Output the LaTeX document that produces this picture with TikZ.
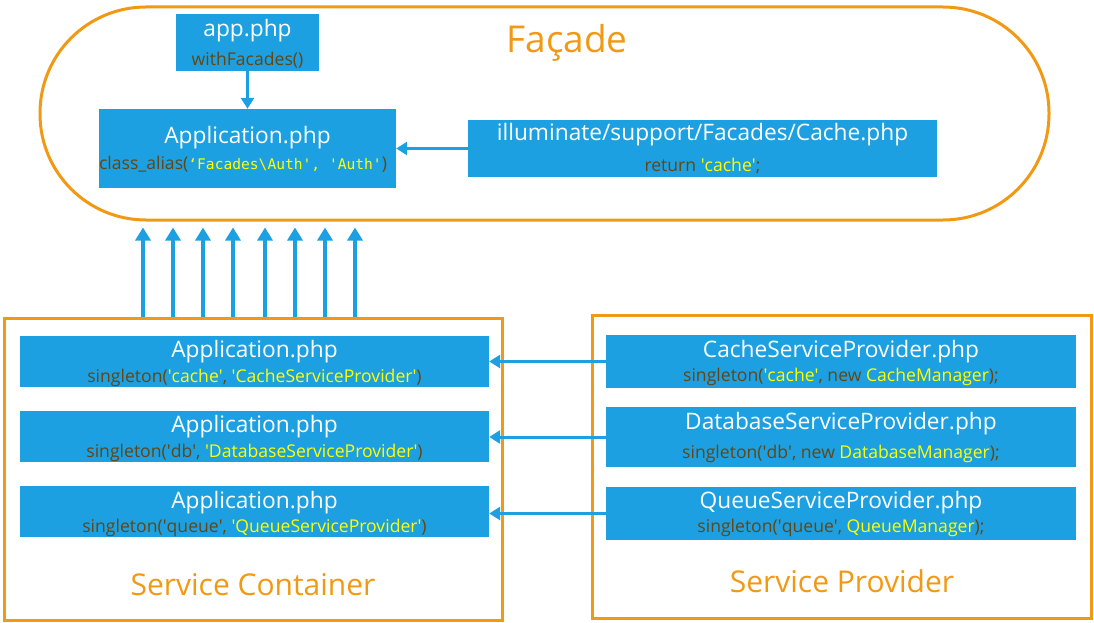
\documentclass[tikz,border=0pt]{standalone}
\usepackage{fontspec}
\setmainfont{Open Sans}
\setmonofont{DejaVu Sans Mono}
\usetikzlibrary{arrows.meta}
\definecolor{bl}{RGB}{29,160,225}
\definecolor{og}{RGB}{242,153,19}
\definecolor{br}{RGB}{100,70,20}
\definecolor{yl}{RGB}{255,255,0}
\newcommand\qq{\textquotesingle}
\newcommand\yy[1]{\textcolor{yl}{#1}}
\begin{document}
\begin{tikzpicture}[x=1pt,y=-1pt,
 box/.style={fill=bl,draw=none,inner sep=0},
 ttl/.style={text=white,font=\fontsize{22.7}{25}\selectfont,inner sep=0,yshift=-2pt},
 sub/.style={text=br,font=\fontsize{17.6}{20}\selectfont,inner sep=0,yshift=-2pt},
 upar/.style={draw=bl,line width=4pt,-{Triangle[width=15pt,length=13pt]}},
 lar/.style={draw=bl,line width=3pt,-{Triangle[width=13pt,length=11pt]}},
 frame/.style={draw=og,line width=3pt,inner sep=0},
 big/.style={text=og,inner sep=0}]
\useasboundingbox (0,0) rectangle (1094,623);
% frames
\node[frame,rounded corners=106pt,minimum width=1009pt,minimum height=213pt] (facade) at (544.5,113.5) {};
\node[frame,minimum width=498pt,minimum height=302pt] (sc) at (253,469) {};
\node[frame,minimum width=499pt,minimum height=303pt] (sp) at (841.5,466.5) {};
\node[big,font=\fontsize{37}{40}\selectfont] (tfac) at (567,43) {Façade};
\node[big,font=\fontsize{30}{33}\selectfont] (tsc) at (253,585) {Service Container};
\node[big,font=\fontsize{30}{33}\selectfont] (tsp) at (842,581) {Service Provider};
% facade boxes
\node[box,minimum width=143pt,minimum height=57pt] (app) at (247.5,42.5) {};
\node[ttl] (appt) at (247.5,29) {app.php};
\node[sub] (apps) at (247.5,58) {withFacades()};
\node[box,minimum width=297pt,minimum height=79pt] (appl) at (247.5,148.5) {};
\node[ttl] (applt) at (247.5,136) {Application.php};
\node[sub] (appls) at (243,162) {class\_alias(\yy{\ttfamily\fontsize{14.6}{16}\selectfont ‘Facades\textbackslash Auth', 'Auth'})};
\node[box,minimum width=469pt,minimum height=57pt] (cache) at (702.5,148.5) {};
\node[ttl] (cachet) at (702.5,133) {illuminate/support/Facades/Cache.php};
\node[sub] (caches) at (702.5,164) {return \yy{\qq cache\qq};};
% service container boxes
\node[box,minimum width=469pt,minimum height=51pt] (l1) at (254.5,361.5) {};
\node[ttl] (l1t) at (254.5,350) {Application.php};
\node[sub] (l1s) at (254.5,376) {singleton(\yy{\qq cache\qq}, \yy{\qq CacheServiceProvider\qq})};
\node[box,minimum width=469pt,minimum height=51pt] (l2) at (254.5,436.5) {};
\node[ttl] (l2t) at (254.5,425) {Application.php};
\node[sub] (l2s) at (254.5,451) {singleton(\qq db\qq, \yy{\qq DatabaseServiceProvider\qq})};
\node[box,minimum width=469pt,minimum height=51pt] (l3) at (254.5,511.5) {};
\node[ttl] (l3t) at (254.5,501) {Application.php};
\node[sub] (l3s) at (254.5,526) {singleton(\qq queue\qq, \yy{\qq QueueServiceProvider\qq})};
% service provider boxes
\node[box,minimum width=470pt,minimum height=53pt] (r1) at (841,361.5) {};
\node[ttl] (r1t) at (841,350) {CacheServiceProvider.php};
\node[sub] (r1s) at (841,375) {singleton(\yy{\qq cache\qq}, new \yy{CacheManager});};
\node[box,minimum width=470pt,minimum height=60pt] (r2) at (841,437) {};
\node[ttl] (r2t) at (841,422) {DatabaseServiceProvider.php};
\node[sub] (r2s) at (841,452) {singleton(\qq db\qq, new \yy{DatabaseManager});};
\node[box,minimum width=470pt,minimum height=53pt] (r3) at (841,513.5) {};
\node[ttl] (r3t) at (841,501) {QueueServiceProvider.php};
\node[sub] (r3s) at (841,526) {singleton(\qq queue\qq, \yy{QueueManager});};
% connectors
\draw[lar] (app.south) -- (appl.north);
\draw[lar] (cache.west) -- (cache.west -| appl.east);
\draw[lar] (r1.west) -- (r1.west -| l1.east);
\draw[lar] (r2.west) -- (r2.west -| l2.east);
\draw[lar] (r3.west) -- (r3.west -| l3.east);
\foreach \x in {143,173,203,233,265,295,325,355}{
  \coordinate (c\x) at (\x,0);
  \draw[upar,shorten >=6pt] (sc.north -| c\x) -- (facade.south -| c\x);
}
\end{tikzpicture}
\end{document}
